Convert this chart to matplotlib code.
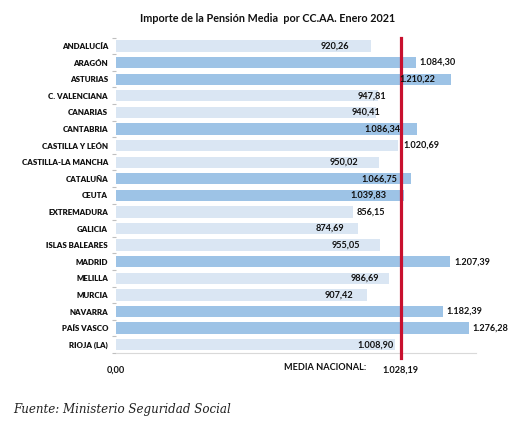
import matplotlib
matplotlib.use("Agg")
import matplotlib.pyplot as plt

regions = ["ANDALUCÍA", "ARAGÓN", "ASTURIAS", "C. VALENCIANA", "CANARIAS", "CANTABRIA",
           "CASTILLA Y LEÓN", "CASTILLA-LA MANCHA", "CATALUÑA", "CEUTA", "EXTREMADURA",
           "GALICIA", "ISLAS BALEARES", "MADRID", "MELILLA", "MURCIA", "NAVARRA",
           "PAÍS VASCO", "RIOJA (LA)"]
pension = [920.26, 1084.30, 1210.22, 947.81, 940.41, 1086.34, 1020.69, 950.02, 1066.75,
           1039.83, 856.15, 874.69, 955.05, 1207.39, 986.69, 907.42, 1182.39, 1276.28, 1008.90]
media_nacional = 1028.19
# label centre offset from bar end (pixels)
label_shift = [-36, 22, -34, -6, -10, -34, 23, -35, -32, -35, 18, -28, -34, 22, -24, -28, 21, 21, -20]

def fmt(v):
    s = f"{v:,.2f}"
    return s.replace(",", "X").replace(".", ",").replace("X", ".")

DARK = "#9DC3E6"
LIGHT = "#DAE6F3"
RED = "#C8102E"
TXT = "#111111"

fig = plt.figure(figsize=(5.19, 4.26), dpi=100)
ax = fig.add_axes([116/519, 1-353/426, 360/519, (353-37.7)/426])

n = len(regions)
ypos = list(range(n))
colors = [DARK if v > media_nacional else LIGHT for v in pension]
ax.barh(ypos, pension, height=0.68, color=colors, zorder=2)
ax.set_ylim(n - 0.5, -0.5)
ax.set_xlim(0, 1301)

ax.axvline(media_nacional, ymin=-0.015, ymax=1, color=RED, lw=2.3, zorder=3, clip_on=False)

for y, v, sh in zip(ypos, pension, label_shift):
    ax.annotate(fmt(v), (v, y), xytext=(sh, 0), textcoords="offset pixels",
                ha="center", va="center", fontsize=6.6, fontweight="bold",
                family="Lato", color=TXT, zorder=4)

ax.set_yticks(ypos)
ax.set_yticklabels(regions, fontsize=5.7, fontweight="heavy", family="Lato", color=TXT)
ax.set_yticks([i + 0.5 for i in range(-1, n)], minor=True)
ax.tick_params(axis="y", which="major", length=0, pad=5.7)
ax.tick_params(axis="y", which="minor", length=3, color="#BFBFBF", width=0.8)

ax.set_xticks([0, media_nacional])
ax.set_xticklabels(["0,00", fmt(media_nacional)], fontsize=6.6, fontweight="bold",
                   family="Lato", color=TXT)
ax.tick_params(axis="x", length=0, pad=9)
fig.text(366/519, 1-367/426, "MEDIA NACIONAL:", ha="right", va="center", fontsize=6.6,
         fontweight="bold", family="Lato", color=TXT)

for s in ["top", "right", "left"]:
    ax.spines[s].set_visible(False)
ax.spines["bottom"].set_color("#D9D9D9")
ax.spines["bottom"].set_linewidth(0.8)

fig.text(268/519, 1-18/426, "Importe de la Pensión Media  por CC.AA. Enero 2021",
         ha="center", va="center", fontsize=7.75, fontweight="bold", family="Lato", color=TXT)
fig.text(13/519, 1-409/426, "Fuente: Ministerio Seguridad Social", ha="left", va="center",
         fontsize=8.6, style="italic", family="DejaVu Serif", color="#222222")

fig.savefig("out.png", dpi=100)
